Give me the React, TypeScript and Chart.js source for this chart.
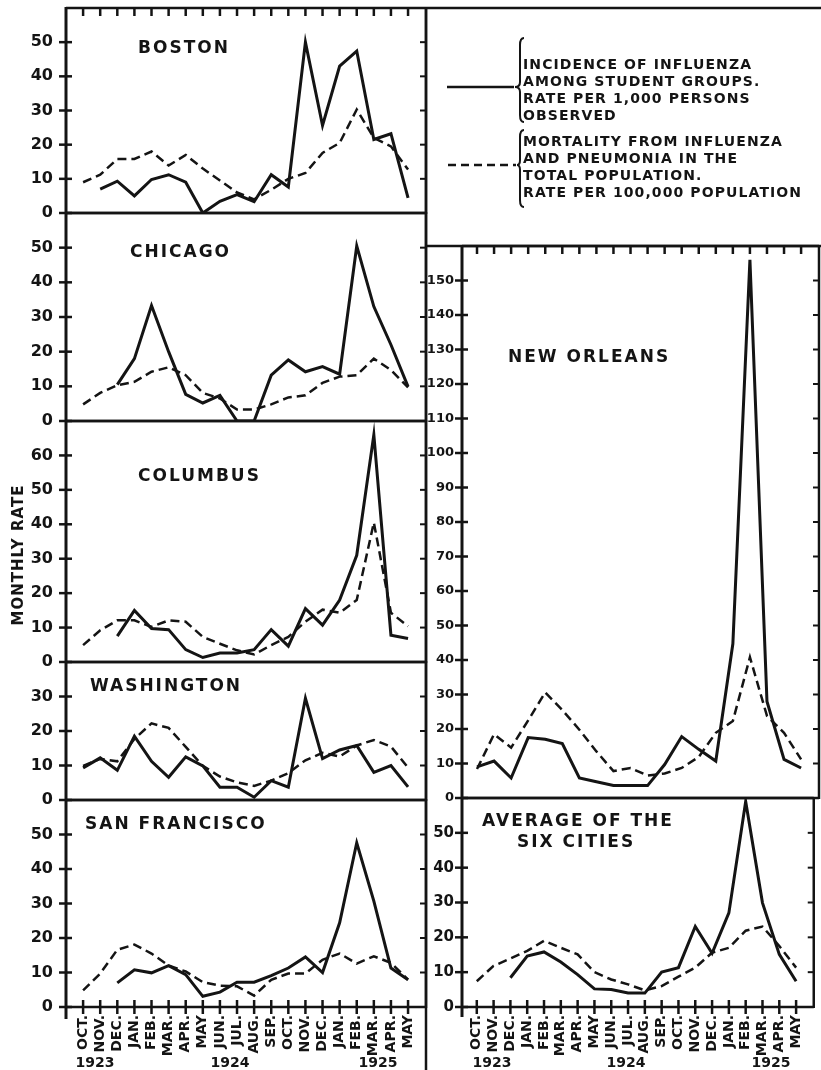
import React, { useEffect, useRef } from "react";
import { Chart, registerables } from "chart.js";

Chart.register(...registerables);

// ---------- data ----------
const MONTHS = [
  "OCT.", "NOV.", "DEC.", "JAN.", "FEB.", "MAR.", "APR.", "MAY", "JUN.", "JUL.",
  "AUG.", "SEP.", "OCT.", "NOV.", "DEC.", "JAN.", "FEB.", "MAR.", "APR.", "MAY",
];
const YEARS = ["1923", "1924", "1925"];

const bostonIncidence = [null, 7, 9.3, 5, 9.8, 11.2, 9, 0, 3.4, 5.4, 3.3, 11.2, 7.6, 50, 25.6, 43, 47.4, 21.5, 23.2, 4.4];
const bostonMortality = [9, 11.2, 15.8, 15.8, 18, 13.9, 17, 13, 9.5, 6, 4, 6.8, 10, 11.7, 17.6, 20.5, 30.3, 22, 19.5, 12.7];

const chicagoIncidence = [null, null, 10.5, 18, 33.3, 20, 7.7, 5.2, 7.4, 0, 0, 13.2, 17.6, 14.2, 15.7, 13.5, 50.5, 33, 22, 9.9];
const chicagoMortality = [4.8, 8.1, 10.3, 11.3, 14.2, 15.5, 13.2, 8.1, 6.5, 3.3, 3.3, 4.8, 6.8, 7.4, 11, 12.8, 13.2, 18, 14.7, 9.7];

const columbusIncidence = [null, null, 7.5, 15, 9.7, 9.4, 3.6, 1.3, 2.6, 2.6, 3.6, 9.4, 4.6, 15.5, 10.7, 18, 31, 66, 7.8, 6.8];
const columbusMortality = [4.9, 9.2, 12.1, 12.1, 10.2, 12.1, 11.7, 7.3, 5.3, 3.4, 2.2, 4.9, 7.3, 11.7, 15.2, 14.3, 18, 40.5, 14.3, 10.4];

const washingtonIncidence = [9.3, 12.2, 8.6, 18.5, 11.2, 6.6, 12.5, 9.9, 3.7, 3.7, 0.8, 5.6, 3.7, 29.5, 12, 14.5, 15.8, 8, 10, 3.8];
const washingtonMortality = [9.9, 11.9, 11.2, 17.7, 22.2, 20.9, 15.4, 9.9, 6.8, 5.1, 4.1, 5.6, 7.8, 11.5, 13.7, 12.6, 15.8, 17.4, 15.5, 9.4];

const sanFranciscoIncidence = [null, null, 7, 10.8, 9.9, 12, 9.4, 3.1, 4.3, 7.2, 7.2, 9.1, 11.3, 14.5, 10, 24.4, 47.6, 30.7, 11.3, 7.9];
const sanFranciscoMortality = [4.8, 9.7, 16.6, 18.1, 15.5, 12, 10.3, 7.2, 6.2, 6, 3.3, 7.9, 9.7, 9.7, 13.7, 15.5, 12.6, 14.7, 12.8, 7.9];

const newOrleansIncidence = [9, 10.7, 5.8, 17.5, 17, 15.8, 5.8, 4.7, 3.6, 3.6, 3.6, 9.7, 17.8, 14.1, 10.7, 44.7, 156, 28, 11.2, 8.7];
const newOrleansMortality = [8.4, 18.5, 14.6, 22.5, 30.6, 25.5, 19.8, 13.5, 7.8, 8.7, 6.5, 7.1, 8.7, 11.9, 18.9, 22.3, 40.8, 23.8, 18.9, 11.2];

const averageIncidence = [null, null, 8.4, 14.6, 15.8, 12.9, 9.3, 5.2, 5, 4, 4, 10, 11.3, 23.1, 15.4, 27, 59, 29.9, 15.1, 7.4];
const averageMortality = [7.4, 11.8, 13.9, 16.1, 19, 17, 15.1, 10, 7.9, 6.5, 4.8, 6, 8.7, 11.3, 15.6, 17, 21.9, 23.1, 17.5, 11.3];

const LEGEND_INCIDENCE = ["INCIDENCE OF INFLUENZA", "AMONG STUDENT GROUPS.", "RATE PER 1,000 PERSONS", "OBSERVED"];
const LEGEND_MORTALITY = ["MORTALITY FROM INFLUENZA", "AND PNEUMONIA IN THE", "TOTAL POPULATION.", "RATE PER 100,000 POPULATION"];

// ---------- style ----------
const INK = "#141414";
const FONT = "'DejaVu Sans', 'Liberation Sans', sans-serif";
const PAD = 28;
const PAGE_H = 1070;

function makeFramePlugin(topTicks: boolean, bottomTicks: boolean) {
  return {
    id: "panelFrame",
    afterDraw(chart: any) {
      const ctx: CanvasRenderingContext2D = chart.ctx;
      const area = chart.chartArea;
      const left = area.left;
      const right = area.right;
      const top = area.top;
      const bottom = area.bottom;
      const xs = chart.scales.x;
      const ys = chart.scales.y;
      ctx.save();
      ctx.setLineDash([]);
      ctx.strokeStyle = INK;
      ctx.lineCap = "butt";
      const line = (x1: number, y1: number, x2: number, y2: number, w: number) => {
        ctx.lineWidth = w;
        ctx.beginPath();
        ctx.moveTo(x1, y1);
        ctx.lineTo(x2, y2);
        ctx.stroke();
      };
      line(left, top - 1, left, bottom + 1, 3);
      line(right, top - 1, right, bottom + 1, 2.5);
      line(left, top, right, top, 2.5);
      line(left, bottom, right, bottom, 2.5);
      ys.ticks.forEach((t: any) => {
        if (t.value >= ys.max) return;
        const py = ys.getPixelForValue(t.value);
        line(left - 7, py, left + 6, py, 2.5);
        line(right - 6, py, right, py, 2);
      });
      for (let i = 0; i < MONTHS.length; i++) {
        const px = xs.getPixelForValue(i);
        if (topTicks) line(px, top, px, top + 8, 2.5);
        if (bottomTicks) line(px, bottom - 7, px, bottom + 7, 2.5);
      }
      ctx.restore();
    },
  };
}

type PanelProps = {
  left: number;
  width: number;
  padRight: number;
  axisWidth: number;
  plotTop: number;
  plotBottom: number;
  labeled?: boolean;
  yMax: number;
  xMin: number;
  xMax: number;
  incidence: (number | null)[];
  mortality: (number | null)[];
  topTicks?: boolean;
  yFontSize: number;
  yPadding: number;
};

function Panel(p: PanelProps) {
  const ref = useRef<HTMLCanvasElement | null>(null);
  const top = p.plotTop - PAD;
  const height = p.labeled ? PAGE_H - top : p.plotBottom - p.plotTop + 2 * PAD;
  const xAxisHeight = PAGE_H - p.plotBottom;
  useEffect(() => {
    if (!ref.current) return;
    const chart = new Chart(ref.current, {
      type: "line",
      data: {
        datasets: [
          {
            label: "Incidence",
            data: p.incidence.map((v, i) => ({ x: i, y: v })) as any,
            borderColor: INK,
            borderWidth: 3,
            pointRadius: 0,
            tension: 0,
            fill: false,
            spanGaps: false,
          },
          {
            label: "Mortality",
            data: p.mortality.map((v, i) => ({ x: i, y: v })) as any,
            borderColor: INK,
            borderWidth: 2.5,
            borderDash: [9, 5],
            pointRadius: 0,
            tension: 0,
            fill: false,
          },
        ],
      },
      options: {
        responsive: false,
        animation: false,
        events: [],
        layout: { padding: { top: PAD, bottom: p.labeled ? 0 : PAD, left: 0, right: p.padRight } },
        plugins: {
          legend: { display: false },
          tooltip: { enabled: false },
        },
        scales: {
          x: {
            type: "linear",
            min: p.xMin,
            max: p.xMax,
            display: !!p.labeled,
            afterBuildTicks: (s: any) => {
              s.ticks = MONTHS.map((_, i) => ({ value: i }));
            },
            afterFit: (s: any) => {
              if (p.labeled) s.height = xAxisHeight;
            },
            grid: { display: false, drawTicks: false },
            border: { display: false },
            ticks: {
              autoSkip: false,
              maxRotation: 90,
              minRotation: 90,
              padding: 8,
              color: INK,
              font: { family: FONT, weight: "bold", size: 14 },
              callback: (v: any) => MONTHS[v] ?? "",
            },
          },
          y: {
            min: 0,
            max: p.yMax,
            afterFit: (s: any) => {
              s.width = p.axisWidth;
            },
            grid: { display: false, drawTicks: false },
            border: { display: false },
            ticks: {
              stepSize: 10,
              padding: p.yPadding,
              color: INK,
              font: { family: FONT, weight: "bold", size: p.yFontSize },
              callback: (v: any) => (v >= p.yMax ? "" : String(v)),
            },
          },
        },
      } as any,
      plugins: [makeFramePlugin(!!p.topTicks, !!p.labeled)],
    });
    return () => chart.destroy();
  }, []);
  return (
    <canvas
      ref={ref}
      width={p.width}
      height={height}
      style={{ position: "absolute", left: p.left, top, width: p.width, height }}
    />
  );
}

const titleStyle = (left: number, cy: number): React.CSSProperties => ({
  position: "absolute",
  left,
  top: cy,
  transform: "translateY(-50%)",
  fontFamily: FONT,
  fontWeight: "bold",
  fontSize: 17,
  lineHeight: 1,
  letterSpacing: 2,
  color: INK,
  whiteSpace: "nowrap",
});

const legendText = (top: number): React.CSSProperties => ({
  position: "absolute",
  left: 523,
  top,
  transform: "translateY(-50%)",
  fontFamily: FONT,
  fontWeight: "bold",
  fontSize: 14,
  lineHeight: 1,
  letterSpacing: 1.1,
  color: INK,
  whiteSpace: "nowrap",
});

const yearStyle = (cx: number): React.CSSProperties => ({
  position: "absolute",
  left: cx,
  top: 1062,
  transform: "translate(-50%, -50%)",
  fontFamily: FONT,
  fontWeight: "bold",
  fontSize: 14,
  lineHeight: 1,
  color: INK,
});

function brace(xTip: number, xBack: number, y1: number, ym: number, y2: number) {
  return `M ${xBack + 4} ${y1} Q ${xBack} ${y1} ${xBack} ${y1 + 7} L ${xBack} ${ym - 5} Q ${xBack} ${ym} ${xTip} ${ym} Q ${xBack} ${ym} ${xBack} ${ym + 5} L ${xBack} ${y2 - 7} Q ${xBack} ${y2} ${xBack + 4} ${y2}`;
}

export default function App() {
  const L = { left: 0, width: 440, padRight: 14, axisWidth: 66, xMin: -1, xMax: 20.05, yFontSize: 16, yPadding: 13 };
  const R = { left: 400, width: 421, padRight: 2, axisWidth: 62, xMin: -0.88, xMax: 20.05, yPadding: 8 };
  return (
    <div style={{ position: "absolute", left: 0, top: 0, width: 821, height: 1070, background: "#fff", overflow: "hidden" }}>
      <Panel {...L} plotTop={8} plotBottom={213} yMax={60} incidence={bostonIncidence} mortality={bostonMortality} topTicks={true} />
      <Panel {...L} plotTop={213} plotBottom={421} yMax={60} incidence={chicagoIncidence} mortality={chicagoMortality} />
      <Panel {...L} plotTop={421} plotBottom={662} yMax={70} incidence={columbusIncidence} mortality={columbusMortality} />
      <Panel {...L} plotTop={662} plotBottom={800} yMax={40} incidence={washingtonIncidence} mortality={washingtonMortality} />
      <Panel {...L} plotTop={800} plotBottom={1007} labeled={true} yMax={60} incidence={sanFranciscoIncidence} mortality={sanFranciscoMortality} />
      <Panel {...R} plotTop={246} plotBottom={798} yMax={160} yFontSize={13} incidence={newOrleansIncidence} mortality={newOrleansMortality} topTicks={true} />
      <Panel {...R} plotTop={798} plotBottom={1007} labeled={true} yMax={60} yFontSize={15} incidence={averageIncidence} mortality={averageMortality} />

      <svg width={821} height={1070} style={{ position: "absolute", left: 0, top: 0, pointerEvents: "none" }}>
        <g stroke={INK} fill="none">
          <line x1={426} y1={8} x2={821} y2={8} strokeWidth={2.5} />
          <line x1={426} y1={7} x2={426} y2={1070} strokeWidth={2.5} />
          <line x1={426} y1={246} x2={821} y2={246} strokeWidth={2.5} />
          <line x1={66} y1={1007} x2={66} y2={1019} strokeWidth={3} />
          <line x1={462} y1={1007} x2={462} y2={1017} strokeWidth={3} />
          <line x1={447} y1={87} x2={514} y2={87} strokeWidth={2.5} />
          <line x1={448} y1={165} x2={516} y2={165} strokeWidth={2.5} strokeDasharray="8 5" />
          <path d={brace(515, 520, 38, 87, 122)} strokeWidth={2} />
          <path d={brace(517, 520, 130, 165, 207)} strokeWidth={2} />
        </g>
      </svg>

      {LEGEND_INCIDENCE.map((t, i) => (
        <div key={"a" + i} style={legendText(64 + i * 17)}>{t}</div>
      ))}
      {LEGEND_MORTALITY.map((t, i) => (
        <div key={"b" + i} style={legendText(141 + i * 17)}>{t}</div>
      ))}

      <div style={titleStyle(138, 47)}>BOSTON</div>
      <div style={titleStyle(130, 251)}>CHICAGO</div>
      <div style={titleStyle(138, 475)}>COLUMBUS</div>
      <div style={titleStyle(90, 685)}>WASHINGTON</div>
      <div style={titleStyle(85, 823)}>SAN FRANCISCO</div>
      <div style={titleStyle(508, 356)}>NEW ORLEANS</div>
      <div style={titleStyle(482, 820)}>AVERAGE OF THE</div>
      <div style={titleStyle(517, 841)}>SIX CITIES</div>

      <div
        style={{
          position: "absolute",
          left: 18,
          top: 555,
          transform: "translate(-50%, -50%) rotate(-90deg)",
          fontFamily: FONT,
          fontWeight: "bold",
          fontSize: 15,
          lineHeight: 1,
          letterSpacing: 1,
          color: INK,
          whiteSpace: "nowrap",
        }}
      >
        MONTHLY RATE
      </div>

      <div style={yearStyle(95)}>{YEARS[0]}</div>
      <div style={yearStyle(230)}>{YEARS[1]}</div>
      <div style={yearStyle(378)}>{YEARS[2]}</div>
      <div style={yearStyle(492)}>{YEARS[0]}</div>
      <div style={yearStyle(626)}>{YEARS[1]}</div>
      <div style={yearStyle(771)}>{YEARS[2]}</div>
    </div>
  );
}
